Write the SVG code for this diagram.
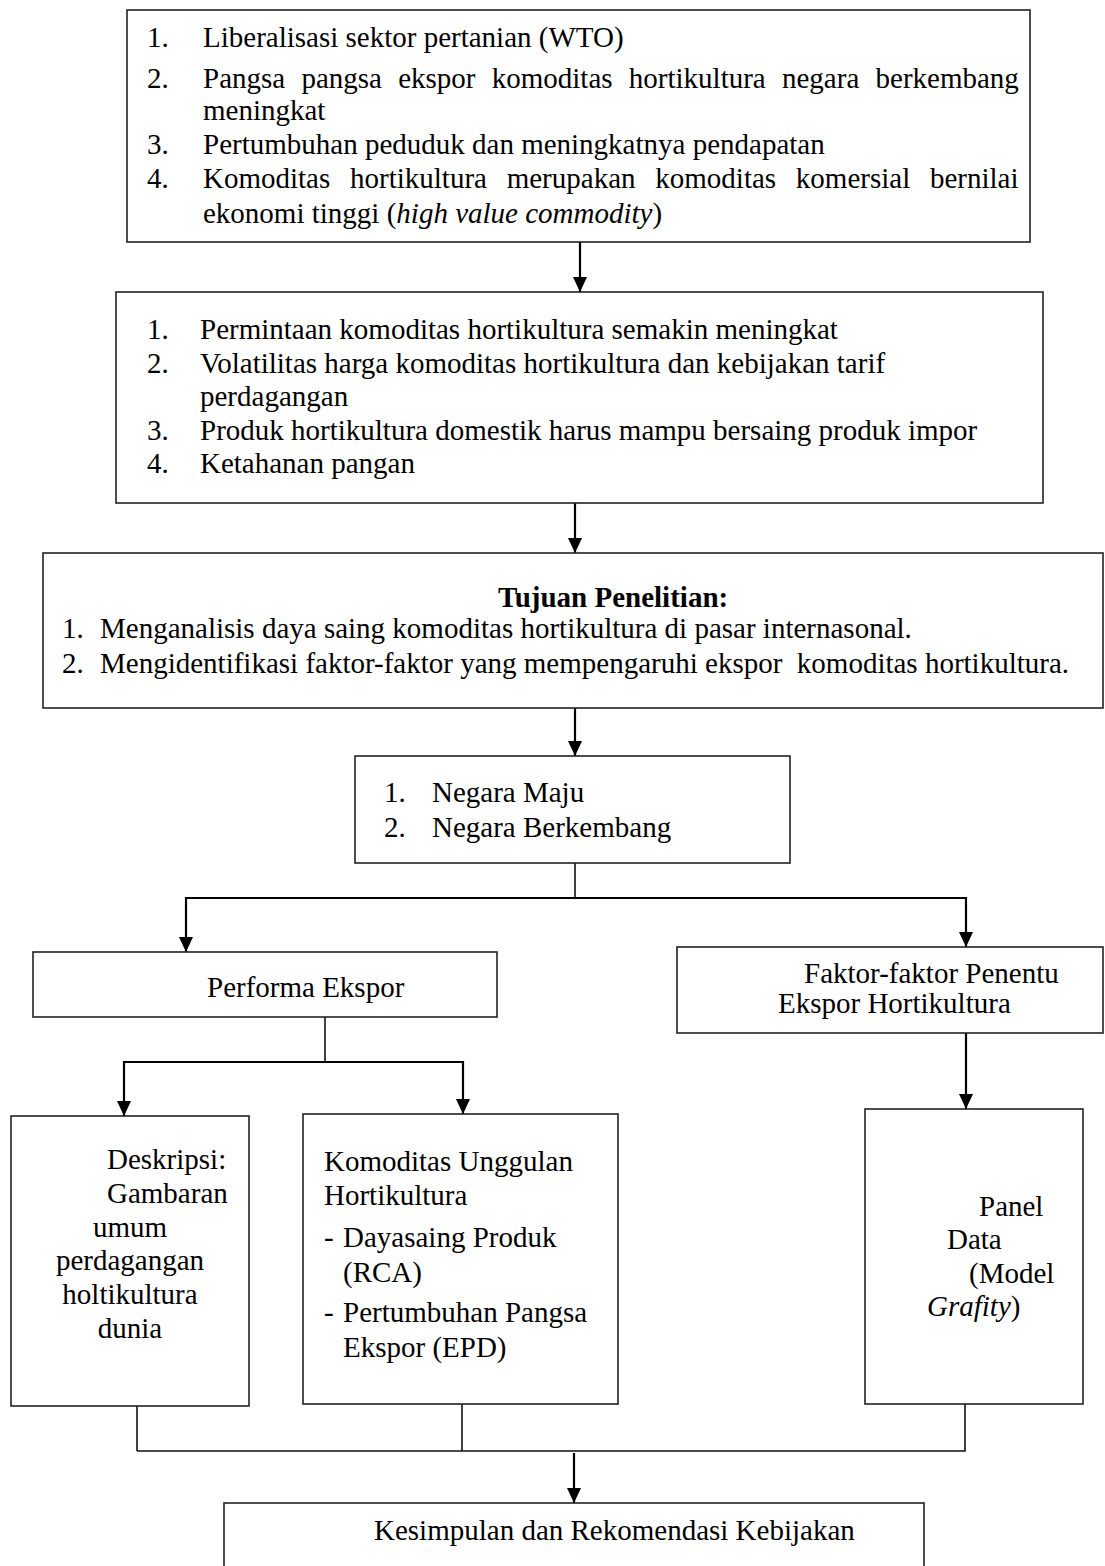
<svg xmlns="http://www.w3.org/2000/svg" width="1105" height="1566" viewBox="0 0 1105 1566">
<style>
text{font-family:"Liberation Serif","Times New Roman",serif;font-size:29px;fill:#000}
.box{fill:#fff;stroke:#222;stroke-width:1.6}
.ln{fill:none;stroke:#111;stroke-width:1.6}
.ar{fill:none;stroke:#000;stroke-width:2.2}
.b{font-weight:bold}
.i{font-style:italic}
</style>
<defs>
<marker id="ah" viewBox="0 0 15 14" refX="15" refY="7" markerWidth="15" markerHeight="14" markerUnits="userSpaceOnUse" orient="auto">
<path d="M0,0 L15,7 L0,14 z" fill="#000"/>
</marker>
</defs>
<rect width="1105" height="1566" fill="#fff"/>

<g id="connectors">
<line class="ar" x1="580" y1="242" x2="580" y2="292" marker-end="url(#ah)"/>
<line class="ar" x1="575" y1="503" x2="575" y2="553" marker-end="url(#ah)"/>
<line class="ar" x1="575" y1="708" x2="575" y2="756" marker-end="url(#ah)"/>
<line class="ln" x1="575" y1="863" x2="575" y2="898"/>
<polyline class="ar" points="575,898 966,898 966,947" marker-end="url(#ah)"/>
<polyline class="ar" points="575,898 186,898 186,952" marker-end="url(#ah)"/>
<line class="ln" x1="325" y1="1017" x2="325" y2="1062"/>
<polyline class="ar" points="325,1062 124,1062 124,1116" marker-end="url(#ah)"/>
<polyline class="ar" points="325,1062 463,1062 463,1114" marker-end="url(#ah)"/>
<line class="ar" x1="966" y1="1033" x2="966" y2="1109" marker-end="url(#ah)"/>
<line class="ln" x1="137" y1="1406" x2="137" y2="1451"/>
<line class="ln" x1="462" y1="1404" x2="462" y2="1451"/>
<polyline class="ln" points="137,1451 965,1451 965,1404"/>
<line class="ar" x1="574" y1="1453" x2="574" y2="1503" marker-end="url(#ah)"/>
</g>

<g id="box1">
<rect class="box" x="127" y="10" width="903" height="232"/>
<text x="147" y="47">1.</text><text x="203" y="47">Liberalisasi sektor pertanian (WTO)</text>
<text x="147" y="88">2.</text><text x="203" y="88" word-spacing="9">Pangsa pangsa ekspor komoditas hortikultura negara berkembang</text>
<text x="203" y="120">meningkat</text>
<text x="147" y="154">3.</text><text x="203" y="154">Pertumbuhan peduduk dan meningkatnya pendapatan</text>
<text x="147" y="188">4.</text><text x="203" y="188" word-spacing="12.5">Komoditas hortikultura merupakan komoditas komersial bernilai</text>
<text x="203" y="223">ekonomi tinggi (<tspan class="i">high value commodity</tspan>)</text>
</g>

<g id="box2">
<rect class="box" x="116" y="292" width="927" height="211"/>
<text x="147" y="339">1.</text><text x="200" y="339">Permintaan komoditas hortikultura semakin meningkat</text>
<text x="147" y="373">2.</text><text x="200" y="373">Volatilitas harga komoditas hortikultura dan kebijakan tarif</text>
<text x="200" y="406">perdagangan</text>
<text x="147" y="440">3.</text><text x="200" y="440">Produk hortikultura domestik harus mampu bersaing produk impor</text>
<text x="147" y="473">4.</text><text x="200" y="473">Ketahanan pangan</text>
</g>

<g id="box3">
<rect class="box" x="43" y="553" width="1060" height="155"/>
<text class="b" x="498" y="607">Tujuan Penelitian:</text>
<text x="62" y="638">1.</text><text x="100" y="638">Menganalisis daya saing komoditas hortikultura di pasar internasonal.</text>
<text x="62" y="673">2.</text><text x="100" y="673" xml:space="preserve">Mengidentifikasi faktor-faktor yang mempengaruhi ekspor  komoditas hortikultura.</text>
</g>

<g id="box4">
<rect class="box" x="355" y="756" width="435" height="107"/>
<text x="384" y="802">1.</text><text x="432" y="802">Negara Maju</text>
<text x="384" y="837">2.</text><text x="432" y="837">Negara Berkembang</text>
</g>

<g id="performa">
<rect class="box" x="33" y="952" width="464" height="65"/>
<text x="207" y="997">Performa Ekspor</text>
</g>

<g id="faktor">
<rect class="box" x="677" y="947" width="426" height="86"/>
<text x="804" y="983">Faktor-faktor Penentu</text>
<text x="778" y="1013">Ekspor Hortikultura</text>
</g>

<g id="deskripsi">
<rect class="box" x="11" y="1116" width="238" height="290"/>
<text x="107" y="1169">Deskripsi:</text>
<text x="107" y="1203">Gambaran</text>
<text x="130" y="1237" text-anchor="middle">umum</text>
<text x="130" y="1270" text-anchor="middle">perdagangan</text>
<text x="130" y="1304" text-anchor="middle">holtikultura</text>
<text x="130" y="1338" text-anchor="middle">dunia</text>
</g>

<g id="komoditas">
<rect class="box" x="303" y="1114" width="315" height="290"/>
<text x="324" y="1171">Komoditas Unggulan</text>
<text x="324" y="1205">Hortikultura</text>
<text x="324" y="1247">-</text><text x="343" y="1247">Dayasaing Produk</text>
<text x="343" y="1282">(RCA)</text>
<text x="324" y="1322">-</text><text x="343" y="1322">Pertumbuhan Pangsa</text>
<text x="343" y="1357">Ekspor (EPD)</text>
</g>

<g id="panel">
<rect class="box" x="865" y="1109" width="218" height="295"/>
<text x="979" y="1216">Panel</text>
<text x="947" y="1249">Data</text>
<text x="969" y="1283">(Model</text>
<text x="927" y="1316"><tspan class="i">Grafity</tspan>)</text>
</g>

<g id="kesimpulan">
<rect class="box" x="224" y="1503" width="700" height="80"/>
<text x="374" y="1540">Kesimpulan dan Rekomendasi Kebijakan</text>
</g>
</svg>
